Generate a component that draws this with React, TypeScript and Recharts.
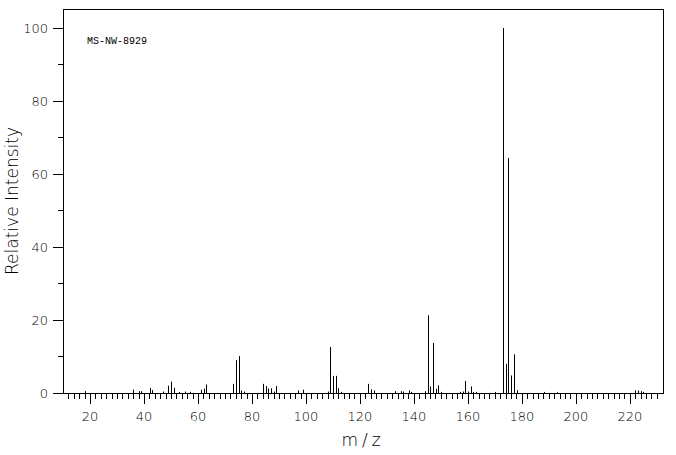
import { BarChart, Bar, XAxis, YAxis, ReferenceArea } from "recharts";

// m/z values and relative intensities
const massValues = [
  18, 36, 38, 39, 42, 43, 47, 49, 50, 51, 53, 55, 57, 61, 62, 63, 73, 74, 75, 76,
  77, 84, 85, 86, 87, 88, 89, 97, 99, 108, 109, 110, 111, 112, 113, 123, 124, 125,
  133, 135, 136, 138, 139, 144, 145, 146, 147, 148, 149, 150, 157, 158, 159, 160,
  161, 162, 163, 170, 173, 174, 175, 176, 177, 178, 188, 193, 222, 223, 224, 225,
];
const intensities = [
  0.5, 0.9, 0.5, 0.5, 1.4, 0.8, 0.4, 2.0, 3.1, 1.4, 0.3, 0.4, 0.3, 0.9, 1.2, 2.3, 2.5, 9.0, 10.1, 0.7,
  0.4, 2.5, 1.9, 1.2, 1.3, 0.4, 1.9, 0.7, 0.9, 0.4, 12.6, 4.7, 4.7, 1.3, 0.3, 2.5, 1.0, 0.7,
  0.5, 0.5, 0.4, 0.7, 0.3, 0.5, 21.3, 1.8, 13.7, 1.1, 2.1, 0.3, 0.3, 0.4, 3.3, 0.4,
  1.8, 0.3, 0.3, 0.3, 100, 8.0, 64.4, 4.8, 10.6, 0.8, 0.3, 0.2, 0.7, 0.7, 0.5, 0.3,
];

const xTicks: number[] = [];
for (let t = 12; t <= 230; t += 2) xTicks.push(t);
const yTicks = [0, 10, 20, 30, 40, 50, 60, 70, 80, 90, 100];

const spectrumId = "MS-NW-8929";
const xTitle = "m/z";
const yTitle = "Relative Intensity";

const data = massValues.map((mz, i) => ({ mz, intensity: intensities[i] }));

const FONT = "'DejaVu Sans', sans-serif";
const WEIGHT = 200;

const px = (v: number) => Math.round(v) + 0.5;

const XTick = ({ x, y, payload }: any) => {
  const major = payload.value % 20 === 0;
  return (
    <g>
      <line x1={px(x)} x2={px(x)} y1={y} y2={y + (major ? 11 : 6)} stroke="#000" />
      {major && (
        <text
          x={x}
          y={y + 28}
          textAnchor="middle"
          fontSize={13}
          fontFamily={FONT}
          fontWeight={WEIGHT}
          fill="#000"
        >
          {payload.value}
        </text>
      )}
    </g>
  );
};

const YTick = ({ x, y, payload }: any) => {
  const major = payload.value % 20 === 0;
  return (
    <g>
      <line x1={x} x2={x - (major ? 10 : 5)} y1={px(y)} y2={px(y)} stroke="#000" />
      {major && (
        <text
          x={x - 15}
          y={y}
          dy="0.36em"
          textAnchor="end"
          fontSize={13}
          fontFamily={FONT}
          fontWeight={WEIGHT}
          fill="#000"
        >
          {payload.value}
        </text>
      )}
    </g>
  );
};

const Stick = (props: any) => {
  const { x, y, width, height } = props;
  const cx = px(x + width / 2);
  return <line x1={cx} x2={cx} y1={y} y2={y + height} stroke="#000" strokeWidth={1} />;
};

const Frame = (props: any) => {
  const { x, y, width, height } = props;
  const x0 = px(x);
  const y0 = px(y);
  const x1 = px(x + width);
  const y1 = px(y + height);
  return (
    <g>
      <rect x={x0} y={y0} width={x1 - x0} height={y1 - y0} fill="none" stroke="#000" />
      <text x={x + 24} y={y + 35} fontSize={10} fontFamily="'Liberation Mono', monospace" fill="#000">
        {spectrumId}
      </text>
    </g>
  );
};

export default function App() {
  return (
    <div style={{ position: "absolute", left: 0, top: 0, background: "#fff" }}>
      <BarChart
        width={676}
        height={455}
        data={data}
        margin={{ top: 9, right: 13, bottom: 0, left: 0 }}
        barCategoryGap={0}
      >
        <XAxis
          dataKey="mz"
          type="number"
          domain={[10, 232.3]}
          allowDataOverflow
          ticks={xTicks}
          interval={0}
          height={62}
          tickSize={0}
          tickMargin={0}
          tickLine={false}
          axisLine={false}
          tick={<XTick />}
          label={{
            content: ({ viewBox }: any) => (
              <text
                x={viewBox.x + viewBox.width / 2}
                y={viewBox.y + 53}
                textAnchor="middle"
                fontSize={17}
                fontFamily={FONT}
                fontWeight={WEIGHT}
                letterSpacing={4}
                fill="#000"
              >
                {xTitle}
              </text>
            ),
          }}
        />
        <YAxis
          type="number"
          domain={[0, 105.2]}
          allowDataOverflow
          ticks={yTicks}
          interval={0}
          width={63}
          tickSize={0}
          tickMargin={0}
          tickLine={false}
          axisLine={false}
          tick={<YTick />}
          label={{
            content: ({ viewBox }: any) => {
              const cy = viewBox.y + viewBox.height / 2;
              return (
                <text
                  x={18}
                  y={cy}
                  transform={`rotate(-90 18 ${cy})`}
                  textAnchor="middle"
                  fontSize={17}
                  fontFamily={FONT}
                  fontWeight={WEIGHT}
                  fill="#000"
                >
                  {yTitle}
                </text>
              );
            },
          }}
        />
        <ReferenceArea
          x1={10}
          x2={232.3}
          y1={0}
          y2={105.2}
          ifOverflow="visible"
          shape={<Frame />}
        />
        <Bar dataKey="intensity" barSize={1} fill="#000" shape={<Stick />} isAnimationActive={false} />
      </BarChart>
    </div>
  );
}
